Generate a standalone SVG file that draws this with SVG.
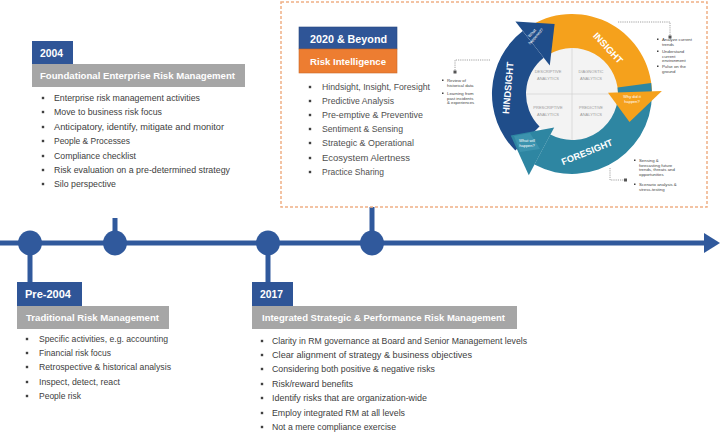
<svg xmlns="http://www.w3.org/2000/svg" width="720" height="439" viewBox="0 0 720 439">
<style>
  .hdr{font-family:"Liberation Sans",Arial,sans-serif;font-weight:bold;fill:#fff;}
  .yr{font-size:10.5px;}
  .bar{font-size:9.6px;}
  .body{font-family:"Liberation Sans",Arial,sans-serif;font-size:8.8px;fill:#404040;}
  .body2{font-family:"Liberation Sans",Arial,sans-serif;font-size:9px;fill:#505050;}
  .tiny{font-family:"Liberation Sans",Arial,sans-serif;font-size:4.3px;fill:#444;}
  .qd{font-family:"Liberation Sans",Arial,sans-serif;font-size:4px;fill:#9a9a9a;text-anchor:middle;}
  .ring{font-family:"Liberation Sans",Arial,sans-serif;font-weight:bold;fill:#fff;text-anchor:middle;}
  .hl{font-family:"Liberation Sans",Arial,sans-serif;font-size:4px;fill:#fff;text-anchor:middle;}
  .blue{fill:#2F5597;}
  .gray{fill:#A6A6A6;}
  .bul{fill:#404040;}
  .tl{stroke:#30599C;stroke-width:5;fill:none;}
  .dot{fill:#30599C;}
  .call{stroke:#8a8a8a;stroke-width:0.8;stroke-dasharray:1.2 1;fill:none;}
</style>

<rect width="720" height="439" fill="#fff"/>

<!-- connectors: timeline -->
<g id="connectors">
  <line class="tl" x1="0" y1="243" x2="708" y2="243"/>
  <polygon class="dot" points="704,233 720,243 704,253"/>
  <line class="tl" x1="30" y1="243" x2="30" y2="284"/>
  <line class="tl" x1="115" y1="218" x2="115" y2="243"/>
  <line class="tl" x1="268" y1="243" x2="268" y2="284"/>
  <line class="tl" x1="372" y1="207" x2="372" y2="243"/>
  <ellipse class="dot" cx="30" cy="243" rx="12" ry="12.5"/>
  <ellipse class="dot" cx="115" cy="243" rx="12" ry="12.5"/>
  <ellipse class="dot" cx="268" cy="243" rx="12" ry="12.5"/>
  <ellipse class="dot" cx="372" cy="243" rx="12" ry="12.5"/>
</g>

<!-- 2004 -->
<g id="node-2004">
  <rect class="blue" x="32" y="41" width="41" height="23"/>
  <text class="hdr yr" x="40" y="57" textLength="23" lengthAdjust="spacingAndGlyphs">2004</text>
  <rect class="gray" x="32" y="64" width="213" height="23"/>
  <text class="hdr bar" x="40" y="79" textLength="195" lengthAdjust="spacingAndGlyphs">Foundational Enterprise Risk Management</text>
  <g class="bul">
    <rect x="41.8" y="96.8" width="2.4" height="2.4"/><rect x="41.8" y="110.8" width="2.4" height="2.4"/>
    <rect x="41.8" y="125.8" width="2.4" height="2.4"/><rect x="41.8" y="139.8" width="2.4" height="2.4"/>
    <rect x="41.8" y="154.8" width="2.4" height="2.4"/><rect x="41.8" y="168.8" width="2.4" height="2.4"/>
    <rect x="41.8" y="182.8" width="2.4" height="2.4"/>
  </g>
  <text class="body" x="54" y="101" textLength="146" lengthAdjust="spacingAndGlyphs">Enterprise risk management activities</text>
  <text class="body" x="54" y="115" textLength="108" lengthAdjust="spacingAndGlyphs">Move to business risk focus</text>
  <text class="body" x="54" y="130" textLength="170" lengthAdjust="spacingAndGlyphs">Anticipatory, identify, mitigate and monitor</text>
  <text class="body" x="54" y="144" textLength="76" lengthAdjust="spacingAndGlyphs">People &amp; Processes</text>
  <text class="body" x="54" y="159" textLength="82" lengthAdjust="spacingAndGlyphs">Compliance checklist</text>
  <text class="body" x="54" y="173" textLength="176" lengthAdjust="spacingAndGlyphs">Risk evaluation on a pre-determined strategy</text>
  <text class="body" x="54" y="187" textLength="62" lengthAdjust="spacingAndGlyphs">Silo perspective</text>
</g>

<!-- Pre-2004 -->
<g id="node-pre2004">
  <rect class="blue" x="17" y="282" width="65" height="24"/>
  <text class="hdr yr" x="25" y="298" textLength="46" lengthAdjust="spacingAndGlyphs">Pre-2004</text>
  <rect class="gray" x="17" y="306" width="152" height="23"/>
  <text class="hdr bar" x="26" y="321" textLength="133" lengthAdjust="spacingAndGlyphs">Traditional Risk Management</text>
  <g class="bul">
    <rect x="25.8" y="337.8" width="2.4" height="2.4"/><rect x="25.8" y="351.8" width="2.4" height="2.4"/>
    <rect x="25.8" y="365.8" width="2.4" height="2.4"/><rect x="25.8" y="380.8" width="2.4" height="2.4"/>
    <rect x="25.8" y="394.8" width="2.4" height="2.4"/>
  </g>
  <text class="body" x="39" y="342" textLength="129" lengthAdjust="spacingAndGlyphs">Specific activities, e.g. accounting</text>
  <text class="body" x="39" y="356" textLength="72" lengthAdjust="spacingAndGlyphs">Financial risk focus</text>
  <text class="body" x="39" y="370" textLength="132" lengthAdjust="spacingAndGlyphs">Retrospective &amp; historical analysis</text>
  <text class="body" x="39" y="385" textLength="81" lengthAdjust="spacingAndGlyphs">Inspect, detect, react</text>
  <text class="body" x="39" y="399" textLength="42" lengthAdjust="spacingAndGlyphs">People risk</text>
</g>

<!-- 2017 -->
<g id="node-2017">
  <rect class="blue" x="252" y="282" width="41" height="24"/>
  <text class="hdr yr" x="260" y="298" textLength="23" lengthAdjust="spacingAndGlyphs">2017</text>
  <rect class="gray" x="252" y="306" width="265" height="23"/>
  <text class="hdr bar" x="262" y="321" textLength="243" lengthAdjust="spacingAndGlyphs">Integrated Strategic &amp; Performance Risk Management</text>
  <g class="bul">
    <rect x="260.8" y="339.8" width="2.4" height="2.4"/><rect x="260.8" y="353.8" width="2.4" height="2.4"/>
    <rect x="260.8" y="367.8" width="2.4" height="2.4"/><rect x="260.8" y="382.8" width="2.4" height="2.4"/>
    <rect x="260.8" y="396.8" width="2.4" height="2.4"/><rect x="260.8" y="411.8" width="2.4" height="2.4"/>
    <rect x="260.8" y="425.8" width="2.4" height="2.4"/>
  </g>
  <text class="body" x="272" y="344" textLength="255" lengthAdjust="spacingAndGlyphs">Clarity in RM governance at Board and Senior Management levels</text>
  <text class="body" x="272" y="358" textLength="200" lengthAdjust="spacingAndGlyphs">Clear alignment of strategy &amp; business objectives</text>
  <text class="body" x="272" y="372" textLength="163" lengthAdjust="spacingAndGlyphs">Considering both positive &amp; negative risks</text>
  <text class="body" x="272" y="387" textLength="81" lengthAdjust="spacingAndGlyphs">Risk/reward benefits</text>
  <text class="body" x="272" y="401" textLength="155" lengthAdjust="spacingAndGlyphs">Identify risks that are organization-wide</text>
  <text class="body" x="272" y="416" textLength="133" lengthAdjust="spacingAndGlyphs">Employ integrated RM at all levels</text>
  <text class="body" x="272" y="430" textLength="124" lengthAdjust="spacingAndGlyphs">Not a mere compliance exercise</text>
</g>

<!-- 2020 & Beyond -->
<g id="node-2020">
  <rect x="281" y="2" width="426" height="205" fill="#fff" stroke="#F0B085" stroke-width="1.5" stroke-dasharray="3 2"/>
  <rect class="blue" x="299" y="27" width="98" height="22" stroke="#26467e" stroke-width="0.6"/>
  <text class="hdr yr" x="310" y="43" textLength="77" lengthAdjust="spacingAndGlyphs">2020 &amp; Beyond</text>
  <rect x="299" y="49" width="98" height="24" fill="#ED7D31" stroke="#c96a2a" stroke-width="0.6"/>
  <text class="hdr bar" x="310" y="65" textLength="76" lengthAdjust="spacingAndGlyphs">Risk Intelligence</text>
  <g class="bul">
    <rect x="308.8" y="85.8" width="2.4" height="2.4"/><rect x="308.8" y="99.8" width="2.4" height="2.4"/>
    <rect x="308.8" y="113.8" width="2.4" height="2.4"/><rect x="308.8" y="127.8" width="2.4" height="2.4"/>
    <rect x="308.8" y="141.8" width="2.4" height="2.4"/><rect x="308.8" y="156.8" width="2.4" height="2.4"/>
    <rect x="308.8" y="170.8" width="2.4" height="2.4"/>
  </g>
  <text class="body2" x="322" y="90" textLength="108" lengthAdjust="spacingAndGlyphs">Hindsight, Insight, Foresight</text>
  <text class="body2" x="322" y="104" textLength="72" lengthAdjust="spacingAndGlyphs">Predictive Analysis</text>
  <text class="body2" x="322" y="118" textLength="101" lengthAdjust="spacingAndGlyphs">Pre-emptive &amp; Preventive</text>
  <text class="body2" x="322" y="132" textLength="81" lengthAdjust="spacingAndGlyphs">Sentiment &amp; Sensing</text>
  <text class="body2" x="322" y="146" textLength="92" lengthAdjust="spacingAndGlyphs">Strategic &amp; Operational</text>
  <text class="body2" x="322" y="161" textLength="88" lengthAdjust="spacingAndGlyphs">Ecosystem Alertness</text>
  <text class="body2" x="322" y="175" textLength="62" lengthAdjust="spacingAndGlyphs">Practice Sharing</text>
</g>

<!-- cycle diagram -->
<g id="cycle">
  <circle cx="572" cy="94" r="47" fill="#F3F3F3"/>
  <line x1="572" y1="47" x2="572" y2="141" stroke="#d4d4d4" stroke-width="0.8"/>
  <line x1="525" y1="94" x2="619" y2="94" stroke="#d4d4d4" stroke-width="0.8"/>
  <text class="qd" x="548" y="73">DESCRIPTIVE</text>
  <text class="qd" x="548" y="80">ANALYTICS</text>
  <text class="qd" x="591" y="73">DIAGNOSTIC</text>
  <text class="qd" x="591" y="80">ANALYTICS</text>
  <text class="qd" x="548" y="109">PRESCRIPTIVE</text>
  <text class="qd" x="548" y="116">ANALYTICS</text>
  <text class="qd" x="591" y="109">PREDICTIVE</text>
  <text class="qd" x="591" y="116">ANALYTICS</text>

  <!-- bodies -->
  <path id="body-orange" d="M532,24.7 A80,80 0 0 1 651.95,91.2 L617.97,92.4 A46,46 0 0 0 549,54.2 Z" fill="#F5A11C"/>
  <path id="body-teal" d="M651.2,82.9 A80,80 0 0 1 534.4,164.6 L550.4,134.6 A46,46 0 0 0 617.6,87.6 Z" fill="#2E86A2"/>
  <path id="body-blue" d="M515.4,150.6 A80,80 0 0 1 522.7,31 L543.7,57.7 A46,46 0 0 0 539.5,126.5 Z" fill="#1F4D8A"/>
  <!-- heads -->
  <polygon points="515.4,21.5 554.6,24.1 549.8,65.6" fill="#1F4D8A"/>
  <polygon points="661.9,90.9 629.5,122.1 608,92.7" fill="#F5A11C"/>
  <polygon points="528.8,175.2 510.7,135.4 554.2,127.5" fill="#2E86A2"/>
  <polygon points="514,136 530,133 540,149 520,152" fill="#3C93AE"/>

  <text class="ring" font-size="9.5" transform="translate(508,88) rotate(-85)" y="3.3">HINDSIGHT</text>
  <text class="ring" font-size="9.5" transform="translate(608,48) rotate(47)" y="3.3">INSIGHT</text>
  <text class="ring" font-size="9.3" transform="translate(587,152) rotate(-22)" y="3.3">FORESIGHT</text>

  <text class="hl" transform="translate(533,34) rotate(-48)"><tspan x="0" y="0">What</tspan><tspan x="0" y="5">happened?</tspan></text>
  <text class="hl" x="632" y="98">Why did it</text>
  <text class="hl" x="632" y="103">happen?</text>
  <text class="hl" x="527" y="142">What will</text>
  <text class="hl" x="527" y="147">happen?</text>

  <!-- callouts -->
  <polyline class="call" points="490,60 455,60 455,71"/>
  <rect x="453.5" y="70.5" width="3" height="3" fill="#555"/>
  <polyline class="call" points="618,22 670,22 670,36"/>
  <rect x="668.5" y="35.5" width="3" height="3" fill="#555"/>
  <polyline class="call" points="610,168 610,180 625,180"/>
  <rect x="624" y="178.5" width="3" height="3" fill="#555"/>

  <g class="bul"><rect x="442" y="79.5" width="1.5" height="1.5"/><rect x="442" y="92.5" width="1.5" height="1.5"/>
  <rect x="657" y="38.5" width="1.5" height="1.5"/><rect x="657" y="50.5" width="1.5" height="1.5"/><rect x="657" y="65.5" width="1.5" height="1.5"/>
  <rect x="634" y="159.5" width="1.5" height="1.5"/><rect x="634" y="183.5" width="1.5" height="1.5"/></g>
  <text class="tiny" x="447" y="82">Review of</text>
  <text class="tiny" x="447" y="86.5">historical data</text>
  <text class="tiny" x="447" y="95">Learning from</text>
  <text class="tiny" x="447" y="99.5">past incidents</text>
  <text class="tiny" x="447" y="104">&amp; experiences</text>
  <text class="tiny" x="662" y="41">Analyze current</text>
  <text class="tiny" x="662" y="45.5">trends</text>
  <text class="tiny" x="662" y="53">Understand</text>
  <text class="tiny" x="662" y="57.5">current</text>
  <text class="tiny" x="662" y="62">environment</text>
  <text class="tiny" x="662" y="68">Pulse on the</text>
  <text class="tiny" x="662" y="72.5">ground</text>
  <text class="tiny" x="639" y="162">Sensing &amp;</text>
  <text class="tiny" x="639" y="166.5">forecasting future</text>
  <text class="tiny" x="639" y="171">trends, threats and</text>
  <text class="tiny" x="639" y="175.5">opportunities</text>
  <text class="tiny" x="639" y="186">Scenario analysis &amp;</text>
  <text class="tiny" x="639" y="190.5">stress-testing</text>
</g>
</svg>
